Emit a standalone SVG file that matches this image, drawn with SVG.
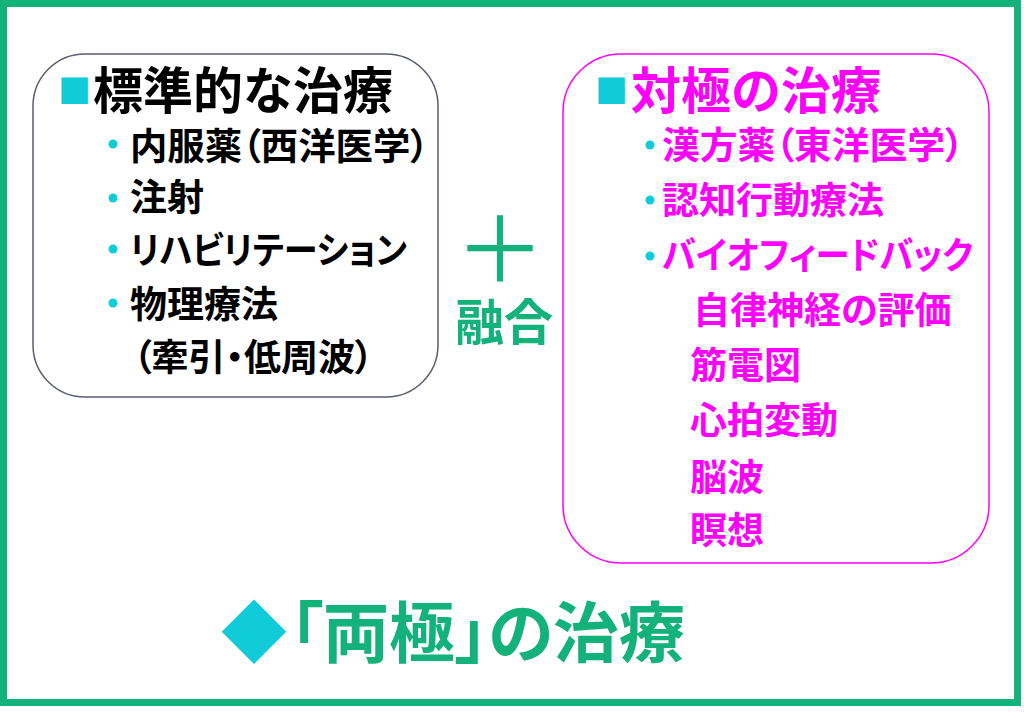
<svg xmlns="http://www.w3.org/2000/svg" width="1024" height="721" viewBox="0 0 1024 721">
<style>
text{font-family:"Noto Sans CJK JP","Noto Sans CJK SC",sans-serif;font-weight:700}
.p{font-feature-settings:"palt"}
.blk{fill:#000}
.mag{fill:#ff00ff}
.grn{fill:#12b27a}
.cy{fill:#10ccd8}
.item{font-size:37px}
.title{font-size:50px}
</style>
<rect width="1024" height="721" fill="#fff"/>
<rect x="3.5" y="3.5" width="1014" height="699" fill="none" stroke="#12b27a" stroke-width="7"/>
<g id="standard">
<rect x="33" y="54" width="405" height="343" rx="52" ry="52" fill="#fff" stroke="#5a5e6e" stroke-width="1.5"/>
<text class="cy" x="58" y="103" font-size="33">■</text>
<text class="title blk" x="93" y="109">標準的な治療</text>
<circle class="cy" cx="113" cy="144" r="4.5"/>
<circle class="cy" cx="113" cy="198" r="4.5"/>
<circle class="cy" cx="113" cy="249" r="4.5"/>
<circle class="cy" cx="113" cy="303" r="4.5"/>
<text class="item blk p" x="130" y="160" textLength="299" lengthAdjust="spacingAndGlyphs">内服薬（西洋医学）</text>
<text class="item blk p" x="130" y="211">注射</text>
<text class="item blk p" x="130" y="264" textLength="277" lengthAdjust="spacingAndGlyphs">リハビリテーション</text>
<text class="item blk p" x="130" y="318">物理療法</text>
<text class="item blk p" x="133" y="371">（牽引・低周波）</text>
</g>
<g id="fusion">
<text class="grn"><tspan x="500" y="282" font-size="90" text-anchor="middle" style="font-weight:400">＋</tspan><tspan x="455" y="340" font-size="49">融合</tspan></text>
</g>
<g id="opposite">
<rect x="563" y="54" width="426" height="509" rx="58" ry="58" fill="#fff" stroke="#ff00ff" stroke-width="1.5"/>
<text class="cy" x="595" y="103" font-size="33">■</text>
<text class="title mag" x="631" y="109">対極の治療</text>
<circle class="cy" cx="650" cy="145" r="4.5"/>
<circle class="cy" cx="650" cy="200" r="4.5"/>
<circle class="cy" cx="650" cy="256" r="4.5"/>
<text class="item mag p" x="662" y="159" textLength="302" lengthAdjust="spacingAndGlyphs">漢方薬（東洋医学）</text>
<text class="item mag p" x="662" y="214">認知行動療法</text>
<text class="item mag p" x="662" y="269" textLength="311" lengthAdjust="spacingAndGlyphs">バイオフィードバック</text>
<text class="item mag p" x="693" y="324">自律神経の評価</text>
<text class="item mag p" x="690" y="379">筋電図</text>
<text class="item mag p" x="690" y="434">心拍変動</text>
<text class="item mag p" x="690" y="491">脳波</text>
<text class="item mag p" x="690" y="544">瞑想</text>
</g>
<g id="bottom-title">
<text class="cy" x="221" y="657" font-size="66">◆</text>
<text class="grn p" x="290" y="657" font-size="66">「両極」の治療</text>
</g>
<g id="connectors"></g>
</svg>
